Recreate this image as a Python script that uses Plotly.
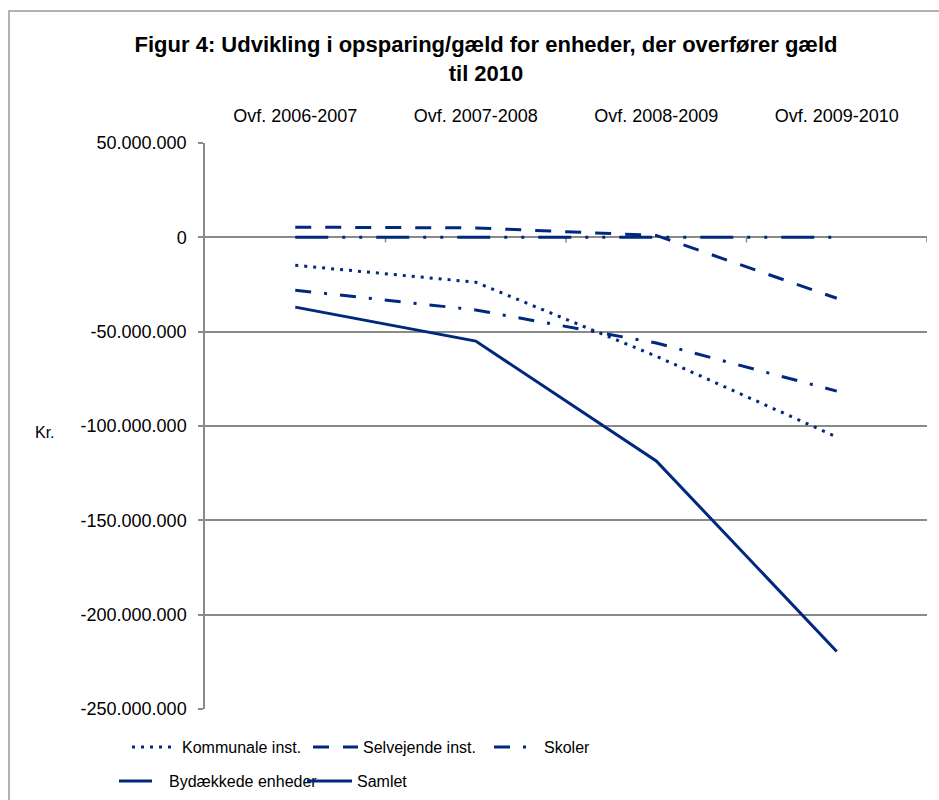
import plotly.graph_objects as go

categories = ["Ovf. 2006-2007", "Ovf. 2007-2008", "Ovf. 2008-2009", "Ovf. 2009-2010"]
kommunale = [-14.8e6, -23.8e6, -63.0e6, -105.8e6]
selvejende = [5.4e6, 5.0e6, 1.0e6, -32.3e6]
skoler = [-28.0e6, -38.5e6, -56.0e6, -81.5e6]
bydaekkede = [0, 0, 0, 0]
samlet = [-37.0e6, -55.0e6, -118.5e6, -219.5e6]

ytick_vals = [50e6, 0, -50e6, -100e6, -150e6, -200e6, -250e6]
ytick_text = ["50.000.000", "0", "-50.000.000", "-100.000.000", "-150.000.000", "-200.000.000", "-250.000.000"]

NAVY = "#00287D"
GRID = "#8A8A8A"
FONT = "Liberation Sans, Arial, sans-serif"

fig = go.Figure()
series = [
    ("Kommunale inst.", kommunale, "3px,6px", "legend"),
    ("Selvejende inst.", selvejende, "16px,14px", "legend"),
    ("Skoler", skoler, "16px,13px,3px,13px", "legend"),
    ("Bydækkede enheder", bydaekkede, "33px,14px,3px,14px,3px,14px", "legend2"),
    ("Samlet", samlet, "solid", "legend2"),
]
for name, vals, dash, leg in series:
    fig.add_trace(go.Scatter(
        x=categories, y=vals, name=name, mode="lines",
        line=dict(color=NAVY, width=3, dash=dash),
        legend=leg,
    ))

# x-axis tick marks at category boundaries on the zero line
for b in [0.5, 1.5, 2.5, 3.5]:
    fig.add_shape(type="line", xref="x", yref="y", x0=b, x1=b, y0=0, y1=-2.7e6,
                  line=dict(color=GRID, width=1.5), layer="below")

# outer chart border
fig.add_shape(type="rect", xref="paper", yref="paper",
              x0=(9 - 205) / 722, x1=1.2, y0=-0.5, y1=(709 - 11) / 566,
              line=dict(color="#9A9A9A", width=1.5), fillcolor="rgba(0,0,0,0)")

fig.add_annotation(text="Kr.", xref="paper", yref="paper", xanchor="center", yanchor="middle",
                   x=(45 - 205) / 722, y=(709 - 432) / 566, showarrow=False,
                   font=dict(size=16, color="black", family=FONT))

fig.update_layout(
    width=939, height=800,
    margin=dict(l=205, r=12, t=143, b=91, autoexpand=False),
    paper_bgcolor="white", plot_bgcolor="white",
    font=dict(family=FONT, size=16, color="black"),
    title=dict(text="<b>Figur 4: Udvikling i opsparing/gæld for enheder, der overfører gæld<br>til 2010</b>",
               x=486 / 939, xanchor="center", xref="container",
               y=1 - 52 / 800, yanchor="top", yref="container",
               font=dict(size=22, family=FONT, color="black")),
    xaxis=dict(type="category", side="top", range=[-0.5, 3.5],
               showline=False, showgrid=False, ticks="", automargin=False,
               ticklabelstandoff=16, tickfont=dict(size=18)),
    yaxis=dict(range=[-250e6, 50e6], tickvals=ytick_vals, ticktext=ytick_text,
               showgrid=True, gridcolor=GRID, gridwidth=1.5, automargin=False,
               showline=True, linecolor=GRID, linewidth=1.5,
               ticks="outside", ticklen=5, tickcolor=GRID, tickwidth=1.5,
               zeroline=True, zerolinecolor=GRID, zerolinewidth=1.5,
               ticklabelstandoff=8, tickfont=dict(size=18)),
    legend=dict(orientation="h", x=(127 - 205) / 722, xanchor="left",
                y=(709 - 730) / 566, yanchor="top",
                entrywidth=121, entrywidthmode="pixels",
                font=dict(size=16), bgcolor="rgba(0,0,0,0)", itemwidth=45),
    legend2=dict(orientation="h", x=(114 - 205) / 722, xanchor="left",
                 y=(709 - 764) / 566, yanchor="top",
                 entrywidth=128, entrywidthmode="pixels",
                 font=dict(size=16), bgcolor="rgba(0,0,0,0)", itemwidth=45),
    showlegend=True,
)

fig.write_html("out.html", config={"displayModeBar": False},
               post_script="document.body.style.margin='0px';document.body.style.overflow='hidden';")
